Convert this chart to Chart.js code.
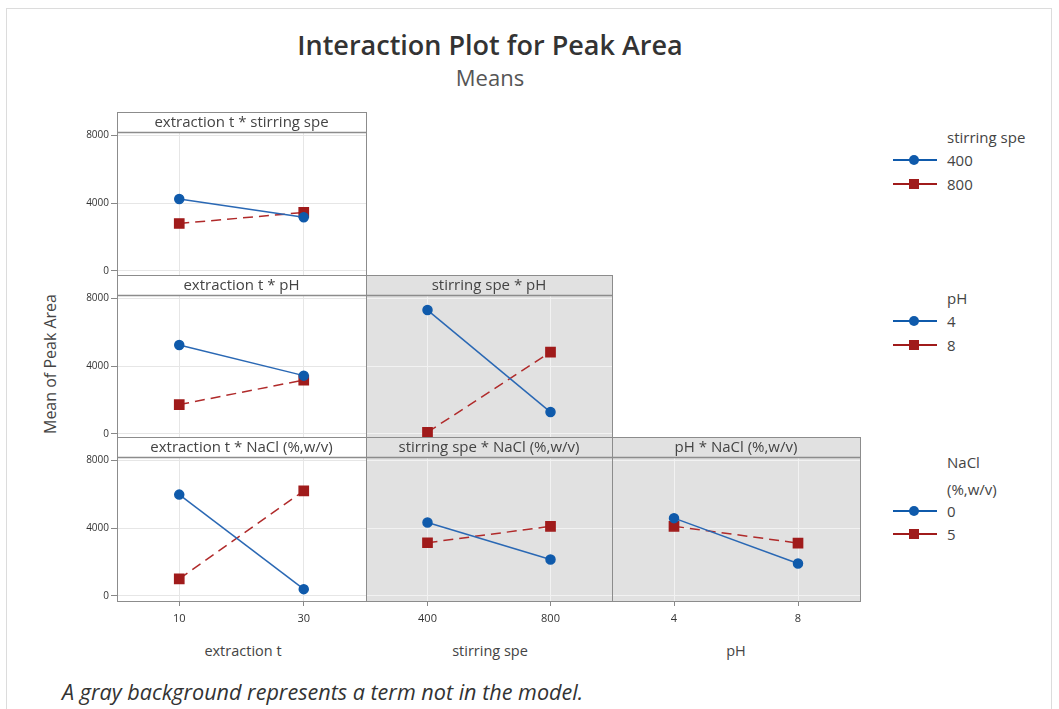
<!DOCTYPE html>
<html>
<head>
<meta charset="utf-8">
<script src="https://cdn.jsdelivr.net/npm/chart.js@4.4.1/dist/chart.umd.min.js"></script>
<style>
    body { margin: 0; width: 1059px; height: 709px; background: #fff; position: relative; overflow: hidden; font-family: "Open Sans", sans-serif; color: #333; }
    #frame { position: absolute; left: 6px; top: 8px; width: 1046px; height: 710px; border: 1px solid #dcdcdc; box-sizing: border-box; }
    .txt { position: absolute; white-space: nowrap; transform: translate(-50%, -50%); }
    .lt { position: absolute; white-space: nowrap; transform: translateY(-50%); font-size: 15px; color: #444; }
    .panel { position: absolute; }
    .sym { position: absolute; width: 44px; height: 2px; transform: translateY(-50%); }
    .sym i { position: absolute; left: 16px; }
</style>
</head>
<body>
<div id="frame"></div>
<div class="txt" style="left:490px;top:44px;font-size:27px;font-weight:600;color:#333;">Interaction Plot for Peak Area</div>
<div class="txt" style="left:490px;top:77px;font-size:22px;color:#555;">Means</div>
<div class="txt" style="left:50px;top:364px;font-size:16px;color:#444;transform:translate(-50%,-50%) rotate(-90deg);">Mean of Peak Area</div>
<div class="txt" style="left:243px;top:650px;font-size:14.5px;color:#444;">extraction t</div>
<div class="txt" style="left:490px;top:650px;font-size:14.5px;color:#444;">stirring spe</div>
<div class="txt" style="left:736px;top:650px;font-size:14.5px;color:#444;">pH</div>
<div class="lt" style="left:62px;top:691px;font-size:21.6px;font-style:italic;color:#333;">A gray background represents a term not in the model.</div>
<div id="legends"></div>

<script>
// x levels of each factor
const extractionT = ['10', '30'];
const stirringSpe = ['400', '800'];
const pHLevels = ['4', '8'];
const yTicks = [0, 4000, 8000];

// means
const extStir400 = [4250, 3170];
const extStir800 = [2800, 3450];
const extPH4 = [5250, 3440];
const extPH8 = [1730, 3180];
const extNaCl0 = [5980, 400];
const extNaCl5 = [1010, 6200];
const stirPH4 = [7310, 1290];
const stirPH8 = [100, 4830];
const stirNaCl0 = [4330, 2150];
const stirNaCl5 = [3140, 4110];
const pHNaCl0 = [4590, 1910];
const pHNaCl5 = [4110, 3120];

const blue = '#0f5aab';
const red = '#a01b1b';

Chart.defaults.font.family = '"Open Sans", sans-serif';
Chart.defaults.color = '#333';

const colX = [117, 366, 612, 860];
const rowY = [112, 275, 437];
const headH = 20;
const plotH = 144;
const bottomY = 640;

const panelPlugin = {
    id: 'panelBox',
    beforeDraw(chart, args, opts) {
        const a = chart.chartArea, ctx = chart.ctx;
        ctx.save();
        ctx.fillStyle = opts.gray ? '#e1e1e1' : '#ffffff';
        ctx.fillRect(a.left, a.top - headH, a.right - a.left, a.bottom - a.top + headH);
        ctx.restore();
    },
    afterDraw(chart, args, opts) {
        const a = chart.chartArea, ctx = chart.ctx;
        ctx.save();
        ctx.strokeStyle = '#8c8c8c';
        ctx.lineWidth = 1;
        ctx.strokeRect(a.left + 0.5, a.top - headH + 0.5, a.right - a.left, a.bottom - a.top + headH);
        ctx.beginPath();
        ctx.moveTo(a.left, a.top + 0.5);
        ctx.lineTo(a.right, a.top + 0.5);
        ctx.lineWidth = 1.5;
        ctx.stroke();
        ctx.fillStyle = '#444';
        ctx.font = '15px "Open Sans", sans-serif';
        ctx.textAlign = 'center';
        ctx.textBaseline = 'middle';
        ctx.fillText(opts.title, (a.left + a.right) / 2, a.top - headH / 2 + 1);
        ctx.restore();
    }
};

function noPad(s) {
    s.paddingLeft = 0; s.paddingRight = 0; s.paddingTop = 0; s.paddingBottom = 0;
}

function makePanel(col, row, title, labels, s1, s2, gray) {
    const plotL = colX[col], plotR = colX[col + 1];
    const top = rowY[row];
    const plotB = top + headH + plotH;
    const left = col === 0 ? plotL - 60 : plotL;
    const bottom = row === 2 ? bottomY : plotB + 1;
    const w = plotR - left + 1, h = bottom - top;

    const div = document.createElement('div');
    div.className = 'panel';
    div.style.left = left + 'px';
    div.style.top = top + 'px';
    const cv = document.createElement('canvas');
    cv.width = w; cv.height = h;
    cv.style.width = w + 'px'; cv.style.height = h + 'px';
    div.appendChild(cv);
    document.body.appendChild(div);

    const gridColor = gray ? '#f2f2f2' : '#e6e6e6';
    new Chart(cv, {
        type: 'line',
        data: {
            labels: labels,
            datasets: [{
                data: s1,
                borderColor: '#2a68b4',
                backgroundColor: blue,
                pointBackgroundColor: blue,
                pointBorderColor: blue,
                pointStyle: 'circle',
                pointRadius: 4.5,
                borderWidth: 1.5,
            }, {
                data: s2,
                borderColor: '#b02a2a',
                backgroundColor: red,
                pointBackgroundColor: red,
                pointBorderColor: red,
                pointStyle: 'rect',
                pointRadius: 6.5,
                borderWidth: 1.5,
                borderDash: [10, 6],
            }],
        },
        options: {
            responsive: false,
            animation: false,
            layout: { padding: { top: headH, right: 1, bottom: row === 2 ? 0 : 1, left: 0 }, autoPadding: false },
            plugins: {
                legend: { display: false },
                tooltip: { enabled: false },
                panelBox: { title: title, gray: gray },
            },
            scales: {
                x: {
                    type: 'category',
                    offset: true,
                    border: { display: false },
                    grid: { offset: false, color: gridColor, drawTicks: row === 2, tickLength: 5, tickColor: '#888' },
                    ticks: { display: row === 2, font: { size: 11 }, color: '#333', padding: 6, maxRotation: 0 },
                    afterFit: (s) => { s.height = row === 2 ? bottom - plotB : 0; noPad(s); },
                },
                y: {
                    min: -300,
                    max: 8200,
                    border: { display: false },
                    grid: { color: gridColor, drawTicks: col === 0, tickLength: 6, tickColor: '#888' },
                    ticks: { display: col === 0, font: { size: 10 }, color: '#333', padding: 2, callback: (v) => String(v) },
                    afterBuildTicks: (s) => { s.ticks = yTicks.map(v => ({ value: v })); },
                    afterFit: (s) => { s.width = col === 0 ? 60 : 0; noPad(s); },
                },
            },
        },
        plugins: [panelPlugin],
    });
}

makePanel(0, 0, 'extraction t * stirring spe', extractionT, extStir400, extStir800, false);
makePanel(0, 1, 'extraction t * pH', extractionT, extPH4, extPH8, false);
makePanel(0, 2, 'extraction t * NaCl (%,w/v)', extractionT, extNaCl0, extNaCl5, false);
makePanel(1, 1, 'stirring spe * pH', stirringSpe, stirPH4, stirPH8, true);
makePanel(1, 2, 'stirring spe * NaCl (%,w/v)', stirringSpe, stirNaCl0, stirNaCl5, true);
makePanel(2, 2, 'pH * NaCl (%,w/v)', pHLevels, pHNaCl0, pHNaCl5, true);

// legends on the right, one per row
function legend(titleLines, titleY, levels, levelY) {
    const box = document.getElementById('legends');
    titleLines.forEach((t, i) => {
        box.insertAdjacentHTML('beforeend',
            '<div class="lt" style="left:947px;top:' + titleY[i] + 'px;">' + t + '</div>');
    });
    levels.forEach((lv, i) => {
        const c = i === 0 ? blue : red;
        const mark = i === 0 ?
            '<i style="top:-4px;width:10px;height:10px;border-radius:50%;background:' + c + ';"></i>' :
            '<i style="top:-4px;width:10px;height:10px;background:' + c + ';"></i>';
        box.insertAdjacentHTML('beforeend',
            '<div class="sym" style="left:893px;top:' + levelY[i] + 'px;background:' + c + ';">' + mark + '</div>' +
            '<div class="lt" style="left:947px;top:' + levelY[i] + 'px;">' + lv + '</div>');
    });
}

legend(['stirring spe'], [137], stirringSpe, [160, 184]);
legend(['pH'], [298], pHLevels, [321, 345]);
legend(['NaCl', '(%,w/v)'], [462, 489], ['0', '5'], [511, 534]);
</script>
</body>
</html>
